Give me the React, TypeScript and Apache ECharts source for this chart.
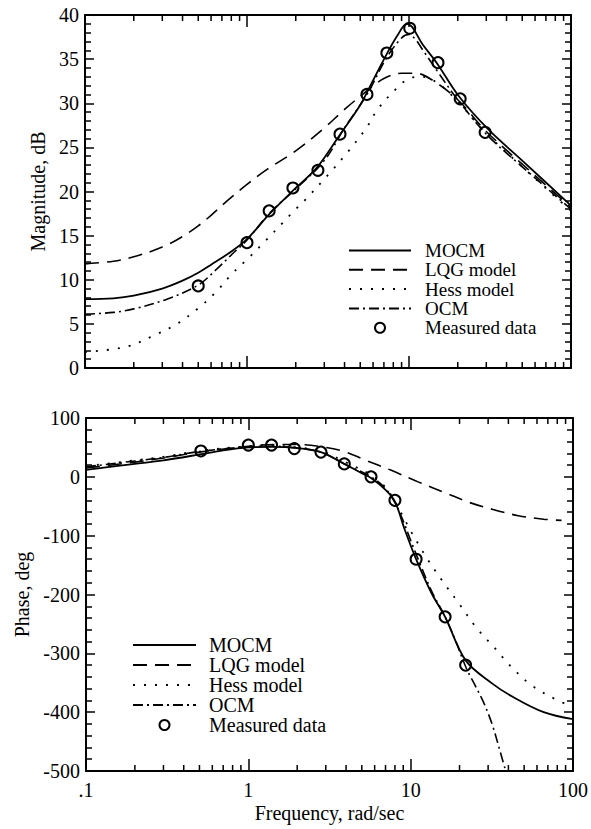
import React, { useEffect, useRef } from 'react';
import * as echarts from 'echarts';

const FONT = '"Liberation Serif", "Times New Roman", Times, serif';

const seriesNames = ['MOCM', 'LQG model', 'Hess model', 'OCM', 'Measured data'];

// ---------- Magnitude (dB) ----------
const magMocmFreq = [0.1, 0.15, 0.2, 0.3, 0.4, 0.5, 0.6, 0.8, 1, 1.4, 2, 2.7, 3.7, 5, 6, 7.3, 8.5, 9.7, 10.5, 12, 14.8, 20.5, 31, 50, 100];
const magMocm = [7.8, 7.9, 8.2, 9.0, 9.9, 10.8, 11.7, 13.2, 14.6, 17.6, 20.4, 22.7, 26.3, 29.8, 32.6, 35.6, 37.7, 39.0, 38.6, 36.8, 34.6, 30.7, 27.0, 23.5, 18.4];

const magLqgFreq = [0.1, 0.15, 0.2, 0.3, 0.4, 0.5, 0.6, 0.75, 1, 1.33, 2, 3, 4, 5.5, 7, 9, 11, 14, 20, 30, 50, 100];
const magLqg = [11.8, 12.1, 12.6, 13.7, 14.9, 16.1, 17.3, 18.9, 20.8, 22.5, 24.6, 27.2, 29.3, 31.4, 32.8, 33.4, 33.4, 32.6, 30.4, 26.8, 23.1, 18.2];

const magHessFreq = [0.1, 0.18, 0.26, 0.37, 0.51, 0.65, 0.82, 1, 1.3, 1.67, 2, 2.3, 3.1, 4.2, 5.5, 6.4, 8.4, 10, 12, 15, 20, 30, 50, 100];
const magHess = [1.8, 2.4, 3.6, 5.0, 6.9, 8.7, 10.8, 12.3, 14.4, 16.5, 18.0, 19.1, 21.7, 24.5, 27.3, 29.3, 31.7, 32.8, 33.0, 32.3, 30.2, 26.6, 22.8, 17.8];

const magOcmFreq = [0.1, 0.15, 0.2, 0.32, 0.5, 0.65, 0.82, 1, 1.37, 2, 3, 4, 5.5, 7.3, 9, 10, 11, 12, 15, 20, 30, 50, 100];
const magOcm = [6.1, 6.3, 6.7, 7.8, 9.4, 11.2, 13.0, 14.5, 17.5, 20.3, 23.5, 27.2, 31.0, 35.2, 37.4, 37.8, 37.2, 36.2, 33.6, 30.4, 26.5, 22.8, 18.0];

const magMeasFreq = [0.5, 1, 1.37, 1.92, 2.74, 3.75, 5.5, 7.3, 10.1, 15.1, 20.7, 29.5];
const magMeas = [9.3, 14.2, 17.8, 20.4, 22.4, 26.5, 31.0, 35.7, 38.5, 34.6, 30.5, 26.7];

// ---------- Phase (deg) ----------
const phMocmFreq = [0.1, 0.2, 0.3, 0.5, 0.7, 1, 1.4, 2, 2.8, 3.9, 5, 5.7, 7, 8, 9.2, 10.8, 13.4, 16.3, 21.8, 31.7, 42, 66, 100];
const phMocm = [12, 22, 28, 38, 45, 50, 51, 49, 42, 22, 6, -2, -22, -42, -90, -140, -197, -238, -312, -351, -373, -400, -412];

const phLqgFreq = [0.1, 0.2, 0.3, 0.5, 1, 1.5, 2, 3, 4, 5.2, 7.6, 11.2, 16.3, 22.7, 31.7, 46, 66, 85];
const phLqg = [15, 25, 32, 42, 52, 55, 55, 50, 42, 29, 11, -9, -27, -43, -55, -66, -72, -74];

const phHessFreq = [0.1, 0.2, 0.3, 0.5, 1, 1.4, 2, 2.8, 3.9, 5.7, 7, 8, 9, 10, 11.3, 12.7, 15.5, 19.8, 25.5, 34, 40, 56, 82, 100];
const phHess = [18, 28, 34, 44, 52, 53, 50, 44, 26, 3, -18, -42, -68, -92, -117, -140, -175, -215, -257, -295, -318, -355, -381, -390];

const phOcmFreq = [0.1, 0.2, 0.3, 0.5, 1, 1.4, 2, 2.8, 3.9, 5.7, 7, 8, 9, 10, 11.5, 13.5, 16.3, 19, 22, 25, 28, 31.7, 35, 38.5];
const phOcm = [17, 27, 33, 43, 51, 52, 49, 42, 22, 0, -20, -44, -75, -108, -150, -195, -238, -280, -325, -355, -382, -420, -460, -500];

const phMeasFreq = [0.51, 1, 1.39, 1.92, 2.8, 3.9, 5.7, 8, 10.8, 16.3, 21.8];
const phMeas = [44, 54, 54, 48, 42, 22, 0, -40, -140, -238, -320];

// minor log ticks
const minorTickFreqs = [0.2, 0.3, 0.4, 0.5, 0.6, 0.7, 0.8, 0.9, 2, 3, 4, 5, 6, 7, 8, 9, 20, 30, 40, 50, 60, 70, 80, 90];

const zip = (f: number[], v: number[]) => f.map((x, i) => [x, v[i]]);

const lineStyles: Record<string, any> = {
  MOCM: { color: '#000', width: 1.8, type: 'solid' },
  'LQG model': { color: '#000', width: 1.6, type: [14, 8] },
  'Hess model': { color: '#000', width: 1.8, type: [2, 9] },
  OCM: { color: '#000', width: 1.6, type: [10, 4, 2, 4] },
};

function lineSeries(name: string, data: number[][], xi: number, yi: number) {
  return {
    type: 'line',
    name,
    xAxisIndex: xi,
    yAxisIndex: yi,
    data,
    symbol: 'none',
    showSymbol: false,
    smooth: 0.35,
    lineStyle: lineStyles[name],
    itemStyle: { color: '#000' },
    z: 3,
  };
}

function measSeries(data: number[][], xi: number, yi: number) {
  return {
    type: 'scatter',
    name: 'Measured data',
    xAxisIndex: xi,
    yAxisIndex: yi,
    data,
    symbol: 'circle',
    symbolSize: 11,
    itemStyle: { color: 'rgba(255,255,255,0)', borderColor: '#000', borderWidth: 2, opacity: 1 },
    z: 4,
  };
}

function minorTickSeries(xi: number, yi: number, yRef: number) {
  return {
    type: 'custom',
    xAxisIndex: xi,
    yAxisIndex: yi,
    silent: true,
    data: minorTickFreqs.map((f) => [f, yRef]),
    encode: { x: 0, y: 1 },
    renderItem: (params: any, api: any) => {
      const p = api.coord([api.value(0), api.value(1)]);
      const cs = params.coordSys;
      const yb = cs.y + cs.height;
      const yt = cs.y;
      return {
        type: 'group',
        children: [
          { type: 'line', shape: { x1: p[0], y1: yb, x2: p[0], y2: yb - 6 }, style: { stroke: '#000', lineWidth: 1.5 } },
          { type: 'line', shape: { x1: p[0], y1: yt, x2: p[0], y2: yt + 6 }, style: { stroke: '#000', lineWidth: 1.5 } },
        ],
      };
    },
    z: 5,
  };
}

const fmtFreq = (v: number) => {
  const s = String(Number(Number(v).toPrecision(3)));
  return s.startsWith('0.') ? s.slice(1) : s;
};

function xAxisDef(gridIndex: number, position: 'top' | 'bottom', showLabel: boolean, name?: string) {
  return {
    type: 'log',
    logBase: 10,
    gridIndex,
    position,
    min: 0.1,
    max: 100,
    name: name || '',
    nameLocation: 'middle',
    nameGap: 32,
    nameTextStyle: { fontFamily: FONT, fontSize: 20, color: '#000' },
    axisLine: { show: true, onZero: false, lineStyle: { color: '#000', width: 2 } },
    axisTick: { show: true, inside: true, length: 12, lineStyle: { color: '#000', width: 1.5 } },
    minorTick: { show: false },
    splitLine: { show: false },
    axisLabel: {
      show: showLabel,
      fontFamily: FONT,
      fontSize: 20,
      color: '#000',
      margin: 9,
      formatter: fmtFreq,
    },
  };
}

function yAxisDef(gridIndex: number, position: 'left' | 'right', min: number, max: number, interval: number, showLabel: boolean, name: string, nameGap: number) {
  return {
    type: 'value',
    gridIndex,
    position,
    min,
    max,
    interval,
    name,
    nameLocation: 'middle',
    nameGap,
    nameRotate: 90,
    nameTextStyle: { fontFamily: FONT, fontSize: 20, color: '#000' },
    axisLine: { show: true, onZero: false, lineStyle: { color: '#000', width: 2 } },
    axisTick: { show: true, inside: true, length: 9, lineStyle: { color: '#000', width: 1.5 } },
    minorTick: { show: true, splitNumber: 5, length: 6, lineStyle: { color: '#000', width: 1.5 } },
    splitLine: { show: false },
    minorSplitLine: { show: false },
    axisLabel: { show: showLabel, fontFamily: FONT, fontSize: 20, color: '#000', margin: 6 },
  };
}

const legendData = seriesNames.map((n) =>
  n === 'Measured data' ? { name: n } : { name: n, itemStyle: { opacity: 0 } }
);

export default function App() {
  const ref = useRef<HTMLDivElement>(null);
  useEffect(() => {
    document.body.style.margin = '0';
    const chart = echarts.init(ref.current!, null, { renderer: 'svg' });
    const option: any = {
      animation: false,
      backgroundColor: '#fff',
      grid: [
        { left: 85, top: 15, width: 486, height: 353 },
        { left: 86, top: 418, width: 487, height: 353 },
      ],
      xAxis: [
        xAxisDef(0, 'bottom', false),
        xAxisDef(0, 'top', false),
        xAxisDef(1, 'bottom', true, 'Frequency, rad/sec'),
        xAxisDef(1, 'top', false),
      ],
      yAxis: [
        yAxisDef(0, 'left', 0, 40, 5, true, 'Magnitude, dB', 35),
        yAxisDef(0, 'right', 0, 40, 5, false, '', 0),
        yAxisDef(1, 'left', -500, 100, 100, true, 'Phase, deg', 51),
        yAxisDef(1, 'right', -500, 100, 100, false, '', 0),
      ],
      legend: [
        {
          orient: 'vertical',
          left: 348,
          top: 241,
          padding: 0,
          itemWidth: 62,
          itemHeight: 10,
          itemGap: 0.3,
          selectedMode: false,
          data: legendData,
          textStyle: { fontFamily: FONT, fontSize: 19, color: '#000', lineHeight: 14, padding: [0, 0, 0, 9] },
        },
        {
          orient: 'vertical',
          left: 132,
          top: 635,
          padding: 0,
          itemWidth: 63,
          itemHeight: 10,
          itemGap: 0,
          selectedMode: false,
          data: legendData,
          textStyle: { fontFamily: FONT, fontSize: 20, color: '#000', lineHeight: 19.5, padding: [0, 0, 0, 8] },
        },
      ],
      series: [
        lineSeries('MOCM', zip(magMocmFreq, magMocm), 0, 0),
        lineSeries('LQG model', zip(magLqgFreq, magLqg), 0, 0),
        lineSeries('Hess model', zip(magHessFreq, magHess), 0, 0),
        lineSeries('OCM', zip(magOcmFreq, magOcm), 0, 0),
        measSeries(zip(magMeasFreq, magMeas), 0, 0),
        minorTickSeries(0, 0, 0),
        lineSeries('MOCM', zip(phMocmFreq, phMocm), 2, 2),
        lineSeries('LQG model', zip(phLqgFreq, phLqg), 2, 2),
        lineSeries('Hess model', zip(phHessFreq, phHess), 2, 2),
        lineSeries('OCM', zip(phOcmFreq, phOcm), 2, 2),
        measSeries(zip(phMeasFreq, phMeas), 2, 2),
        minorTickSeries(2, 2, -500),
      ],
    };
    chart.setOption(option);
    return () => chart.dispose();
  }, []);
  return <div ref={ref} style={{ width: 591, height: 829 }} />;
}
